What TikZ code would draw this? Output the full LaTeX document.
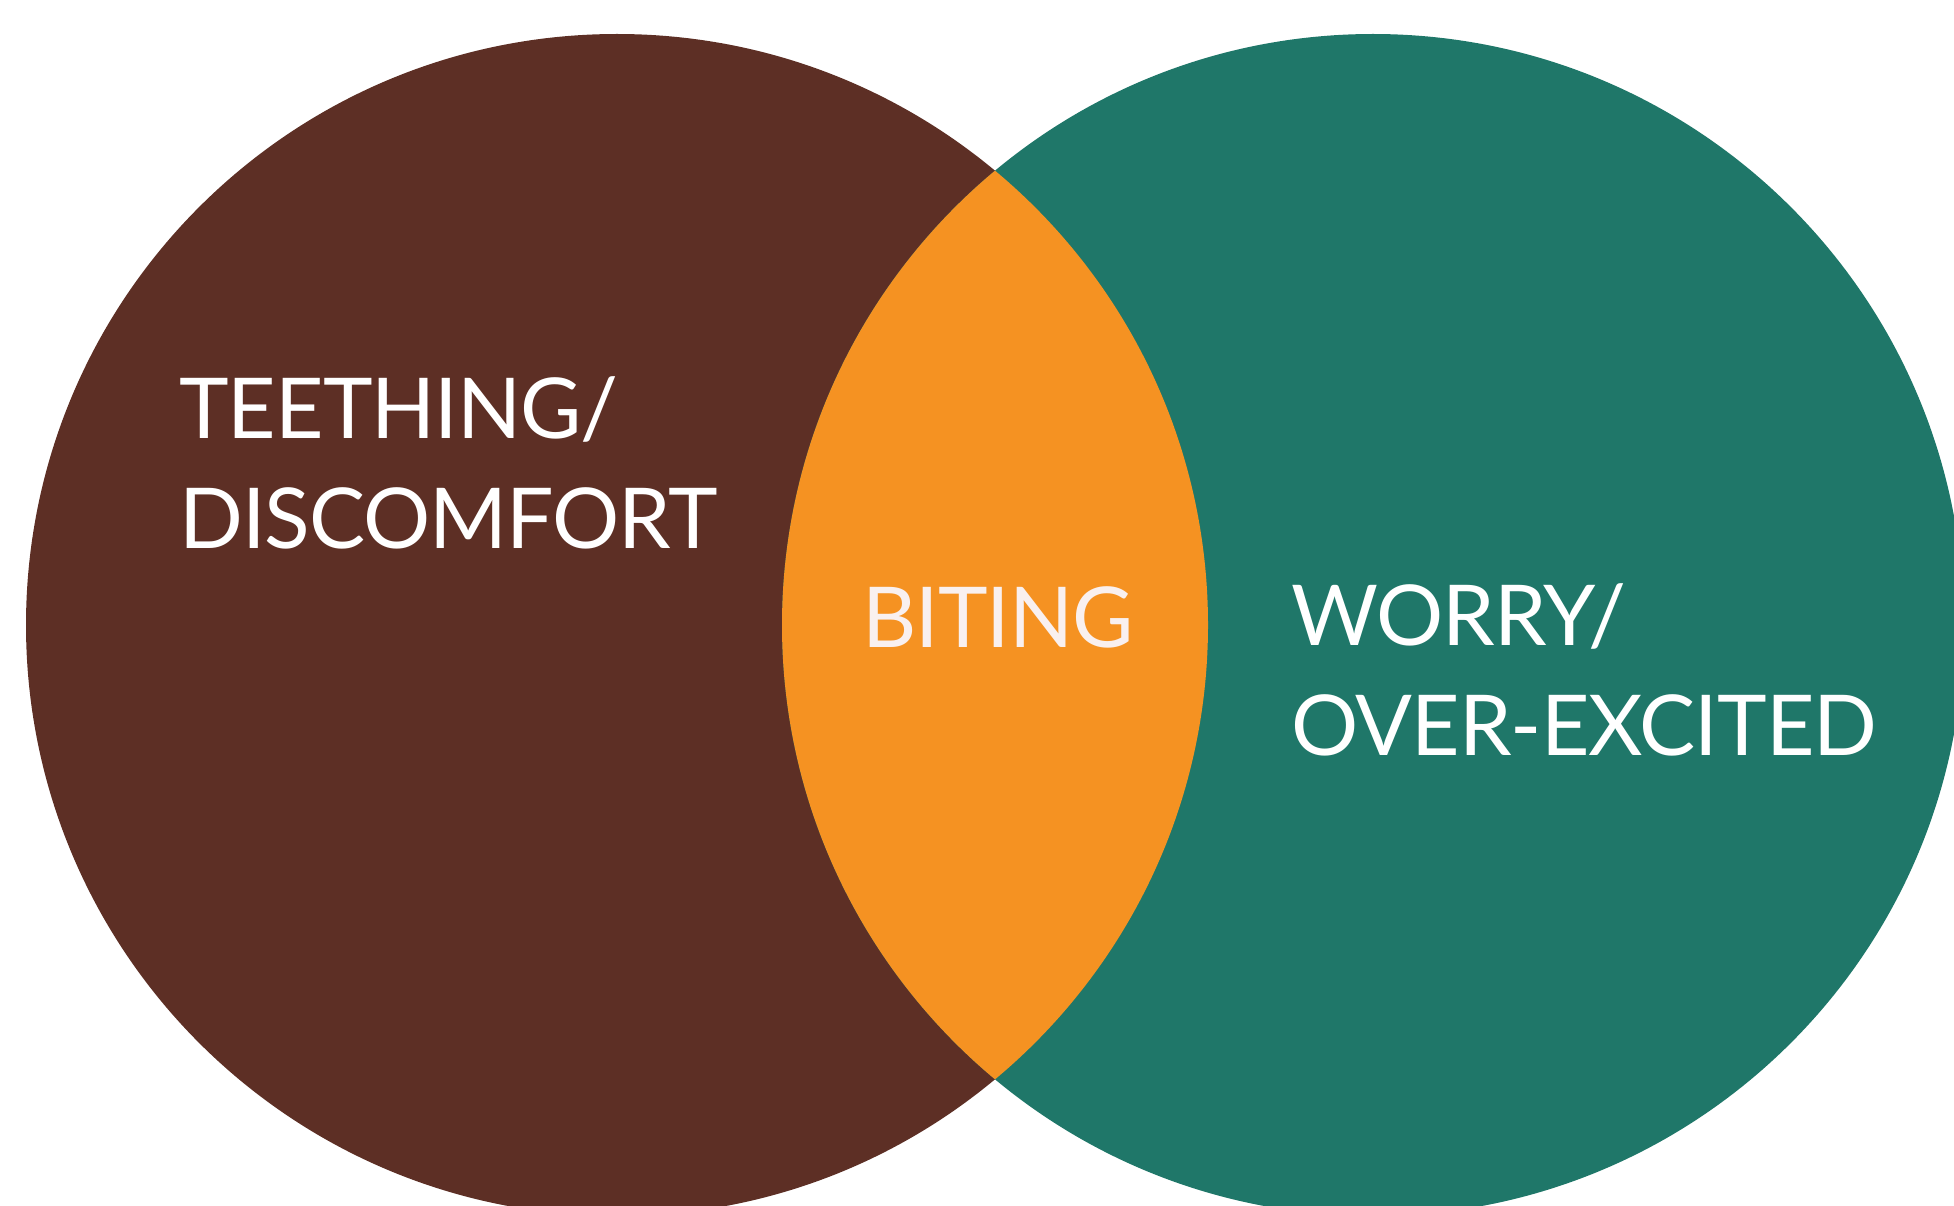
\documentclass[tikz,border=0pt]{standalone}
\usepackage{fontspec}
\setmainfont[LetterSpace=-1.2]{Lato}
\usepackage{tikz}
\usetikzlibrary{positioning}

\definecolor{teethbrown}{HTML}{5D2F25}
\definecolor{worryteal}{HTML}{1F7769}
\definecolor{bitingorange}{HTML}{F59222}
\definecolor{bitingtext}{HTML}{F9F0EF}

\begin{document}
\begin{tikzpicture}[
  x=1pt, y=-1pt,
  set/.style={circle, draw=none, inner sep=0pt, minimum size=1182pt},
  tag/.style={inner sep=0pt, align=left, text=white, font=\fontsize{84}{110}\selectfont}
]
\useasboundingbox (0,0) rectangle (1954,1206);

\node (teeth) [set, fill=teethbrown] at (617,625) {};
\node (worry) [set, fill=worryteal] at (1373,625) {};

% overlap of the two sets
\begin{scope}
  \clip (teeth.center) circle (591pt);
  \fill [bitingorange] (worry.center) circle (591pt);
\end{scope}

\node (teethtag) [tag, anchor=north west] at (179,376) {TEETHING/\\DISCOMFORT};
\node (bitetag) [tag, text=bitingtext, anchor=base] at (998,647) {BITING};
\node (worrytag) [tag, anchor=north west] at (1291,583) {WORRY/\\OVER-EXCITED};

\end{tikzpicture}
\end{document}
